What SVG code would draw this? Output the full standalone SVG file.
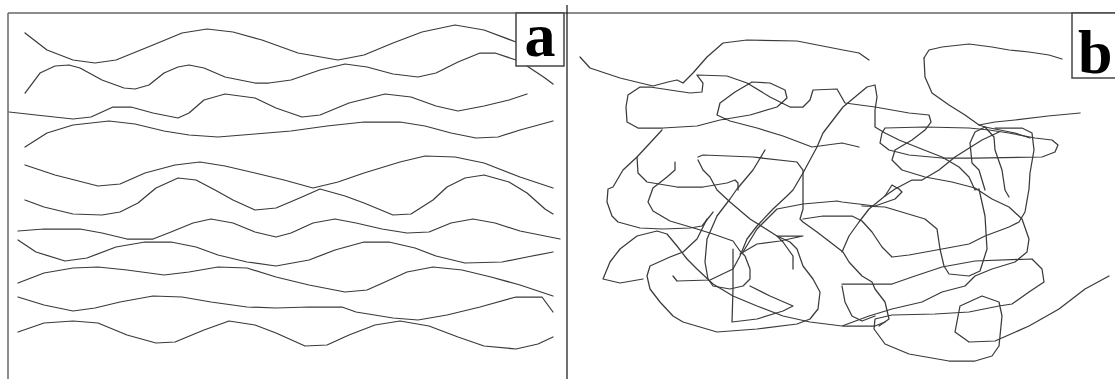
<svg xmlns="http://www.w3.org/2000/svg" width="1115" height="379" viewBox="0 0 1115 379">
<style>
.c{fill:none;stroke:#3a3a3a;stroke-width:1.25;stroke-linejoin:round;stroke-linecap:round}
.frame{fill:none;stroke:#666;stroke-width:1.5}
.lbl{fill:#fff;stroke:#444;stroke-width:1.5}
.t{font-family:"Liberation Serif","Times New Roman",serif;font-weight:bold;fill:#000}
</style>
<rect width="1115" height="379" fill="#fff"/>
<g id="panel-a">
<polyline class="c" points="25,33 47,50 73,60 95,63 116,60 153,45 182,33 207,29 233,32 262,40 298,53 338,60 364,55 393,43 422,32 455,25 484,30 516,42"/>
<polyline class="c" points="25,93 40,73 55,66 69,65 80,68 102,80 124,88 135,89 149,85 164,73 178,67 189,65 204,68 225,77 255,83 269,83 291,80 320,70 345,64 367,67 393,74 418,77 436,73 458,62 480,53 495,53 516,60 527,66 545,78 553,84"/>
<polyline class="c" points="9,112 36,115 73,119 91,117 113,107 131,107 153,113 178,118 189,113 204,100 225,94 255,98 276,108 302,117 320,115 349,103 385,94 411,97 436,106 458,111 484,106 509,100 527,94"/>
<polyline class="c" points="25,147 47,133 73,125 109,121 135,124 164,131 189,135 218,137 255,134 291,131 327,126 364,122 400,122 425,126 451,133 476,138 498,137 520,130 553,121"/>
<polyline class="c" points="25,165 55,175 98,186 120,184 145,173 175,165 200,162 225,166 255,173 284,180 313,188 338,182 364,173 400,162 425,156 455,157 484,163 520,177 553,188"/>
<polyline class="c" points="25,200 44,207 73,214 102,215 120,212 138,203 156,188 178,178 196,180 215,190 233,200 255,210 276,208 302,197 320,189 345,196 364,203 393,215 411,214 433,200 447,187 465,178 484,175 509,182 527,193 545,209 553,214"/>
<polyline class="c" points="18,231 44,229 80,229 102,233 127,239 153,239 171,232 193,223 211,219 233,223 255,232 276,237 291,233 313,223 335,219 356,223 382,229 407,233 429,232 451,223 473,219 495,223 520,231 560,239"/>
<polyline class="c" points="18,240 36,252 65,261 87,258 116,247 145,242 171,242 196,247 218,255 247,262 276,266 309,260 335,250 364,242 389,242 415,248 436,256 465,263 502,262 527,257 553,252"/>
<polyline class="c" points="18,283 44,273 73,268 98,267 127,270 164,275 189,272 218,267 247,268 276,277 309,285 345,292 367,290 385,282 407,272 433,267 462,270 491,277 520,285 553,296"/>
<polyline class="c" points="18,297 44,305 73,311 95,308 120,302 153,296 182,297 211,302 247,307 276,308 309,307 342,307 356,312 393,318 418,320 447,315 480,307 516,297 542,297 553,312"/>
<polyline class="c" points="18,332 44,323 73,321 98,323 127,335 156,343 175,342 204,330 229,321 255,325 276,333 305,346 327,345 349,335 375,325 400,321 429,326 458,337 484,346 516,349 538,344 553,337"/>
</g>
<g id="panel-b">
<polyline class="c" points="580,57 590,68 620,78 653,86 668,82 677,80 683,83 693,73 707,57 723,43 747,40 797,41 843,50 859,53 869,60"/>
<polyline class="c" points="859,147 842,143 812,147 783,136 757,128 730,121 717,115 720,103 735,92 752,82 770,83 785,90 787,98 777,107 750,115 720,120 697,126 663,128 638,128 627,122 626,107 628,95 640,87 650,87 670,90 690,93 702,92 703,83 697,75 727,76 747,83 770,97 790,107 803,107 810,100 813,90 837,89 845,103 875,107 909,113 929,115 931,122 925,130 912,140 895,150 892,160 902,170 925,177 952,182 975,188 992,199 1009,207 1022,219 1029,239 1027,252 1015,262 992,269 975,276 965,286 942,292 922,302 892,309 869,316 842,326 810,322 783,316 757,306 733,296 713,284 697,269 687,259 677,246 667,234 657,231 637,236 620,249 610,262 603,279 620,283 643,279"/>
<polyline class="c" points="662,130 650,143 637,157 623,170 613,187 608,189 607,202 612,216 618,222 640,228 663,229 690,228 702,226 710,216 713,212"/>
<polyline class="c" points="637,157 638,173 647,182 677,187 703,187 727,183 735,180 738,183 738,190"/>
<polyline class="c" points="675,162 675,170 667,177 653,188 648,202 653,211 670,221 697,229 713,234 733,241 740,251 745,256 750,269 750,279 743,286 730,289 713,286 708,279 705,262 707,239 717,216 730,199 737,189 753,170 765,150"/>
<polyline class="c" points="698,157 703,155 753,157 797,162 803,170 803,190 803,209 800,219 803,222 817,232 830,242 843,252 849,262 862,276 872,282 875,289 885,302 889,319 879,326"/>
<polyline class="c" points="698,160 703,170 710,177 717,190 730,202 750,219 777,236 790,242 797,249 803,266 813,279 820,292 818,309 810,319 797,324 757,329 717,332 683,322 673,316 660,302 650,289 647,276 650,266 670,257 683,252 697,239 703,227 707,219"/>
<polyline class="c" points="673,276 677,281 710,280 733,269 740,256 747,239 757,226 773,209 787,196 793,190 803,173 810,160 817,147 823,133 833,120 843,107 855,97 867,87 875,85 877,97 875,110 875,127 885,133 899,140 919,148 942,157 959,167 969,177 975,190 979,189 985,216 987,249 980,271 969,276 949,274 944,266 940,249 937,229 925,219 885,207 862,206"/>
<polyline class="c" points="733,249 733,289 732,322 757,319 783,311 793,306 770,296 750,286"/>
<polyline class="c" points="740,254 757,244 780,241 803,236 777,236 783,242 793,256 793,269"/>
<polyline class="c" points="743,252 757,229 777,209 803,204 837,201 842,202 875,206 895,199 902,192 899,189 892,185 885,196"/>
<polyline class="c" points="803,219 823,216 843,216 852,216 862,221 872,232 882,247 892,257 909,255 942,249 969,244 985,236 1009,227 1019,222 1025,212 1029,189 1030,173 1034,150 1032,133 1022,128 995,128"/>
<polyline class="c" points="842,252 849,236 859,222 869,209 885,196 895,189 912,180 922,180 939,170 955,157 982,140 999,132"/>
<polyline class="c" points="885,128 882,133 880,143 889,150 909,155 942,158 975,158 1042,157 1055,152 1058,145 1052,140 1035,138 1009,133 989,130 969,128 925,127 885,128"/>
<polyline class="c" points="924,58 929,50 942,47 969,44 992,47 1009,50 1029,52 1049,55 1062,59"/>
<polyline class="c" points="924,58 925,77 932,93 949,105 965,115 979,125 985,127 1015,133 1030,138"/>
<polyline class="c" points="979,125 995,122 1015,120 1048,116 1080,113"/>
<polyline class="c" points="985,127 975,132 970,143 972,163 979,170 982,180 985,190"/>
<polyline class="c" points="985,127 994,137 995,150 1002,170 1005,190 1009,197"/>
<polyline class="c" points="842,284 892,284 915,276 942,267 975,261 1032,259 1042,269 1044,282 1029,292 1012,304 999,306 969,312 935,314 892,315 875,319 874,329 885,344 909,354 949,361 975,361 992,356 999,346 1002,316 999,302 982,296 960,306 955,332 969,342 995,341 1029,326 1059,309 1085,289 1109,276"/>
<polyline class="c" points="842,286 845,302 852,316 862,321 875,316"/>
<polyline class="c" points="843,326 875,326 885,322"/>
</g>
<g id="frame">
<line class="frame" x1="8" y1="13" x2="567" y2="13"/>
<line class="frame" x1="8" y1="13" x2="8" y2="379"/>
<line class="frame" x1="567" y1="13" x2="1115" y2="13"/>
<line x1="567" y1="5" x2="567" y2="379" stroke="#111" stroke-width="1.2"/>
</g>
<g id="label-a">
<rect class="lbl" x="516" y="13" width="48" height="53"/>
<text class="t" x="540" y="56" font-size="62" text-anchor="middle">a</text>
</g>
<g id="label-b">
<rect class="lbl" x="1072" y="13" width="50" height="65"/>
<text class="t" x="1078" y="73" font-size="62">b</text>
</g>
</svg>
